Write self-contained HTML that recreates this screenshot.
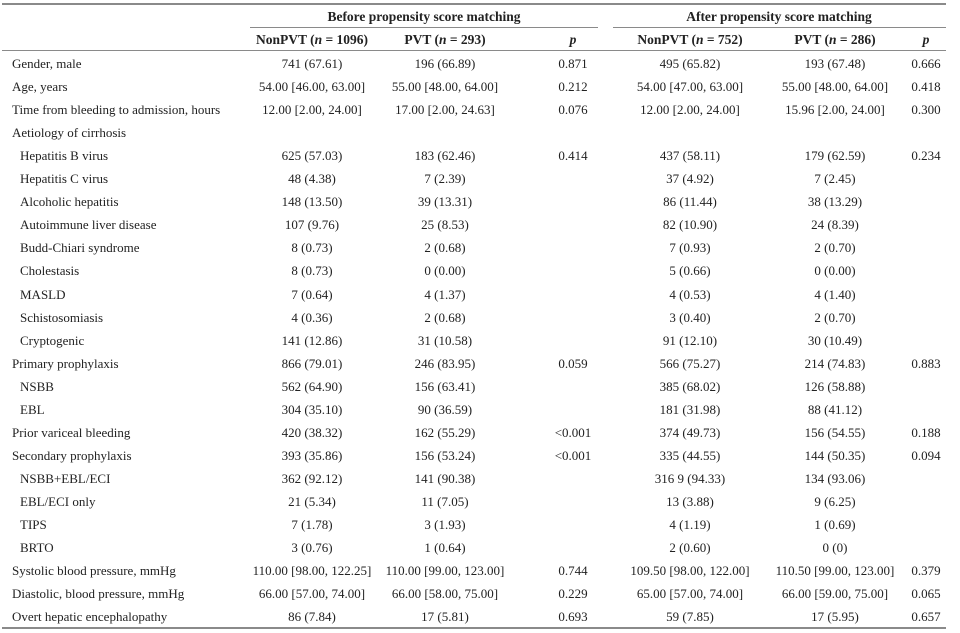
<!DOCTYPE html>
<html><head><meta charset="utf-8"><style>
body{margin:0;width:960px;height:633px;background:#fff;font-family:"Liberation Serif",serif;font-size:13px;color:#222;position:relative;overflow:hidden}
.r{position:absolute;left:0;width:960px;height:16px;line-height:16px}
.r span{position:absolute;white-space:nowrap}
.l{left:12px}.i{left:20px}
.c1,.c2,.c3,.c4,.c5,.c6{transform:translateX(-50%)}
.c1{left:312px}.c2{left:445px}.c3{left:573px}.c4{left:690px}.c5{left:835px}.c6{left:926px}
.hl{position:absolute;background:#8a8a8a}
b{font-weight:bold;font-size:13.5px}
</style></head><body>
<div class="hl" style="left:2px;width:944px;top:3px;height:2px"></div>
<div class="hl" style="left:250px;width:348px;top:27px;height:1px"></div>
<div class="hl" style="left:613px;width:333px;top:27px;height:1px"></div>
<div class="hl" style="left:2px;width:944px;top:50px;height:1px"></div>
<div class="hl" style="left:2px;width:944px;top:627px;height:2px"></div>
<div class="r" style="top:9px"><b><span style="left:424px;transform:translateX(-50%)">Before propensity score matching</span><span style="left:779px;transform:translateX(-50%)">After propensity score matching</span></b></div>
<div class="r" style="top:32px"><b><span class="c1">NonPVT (<i>n</i> = 1096)</span><span class="c2">PVT (<i>n</i> = 293)</span><span class="c3"><i>p</i></span><span class="c4">NonPVT (<i>n</i> = 752)</span><span class="c5">PVT (<i>n</i> = 286)</span><span class="c6"><i>p</i></span></b></div>
<div id="rows"></div>
<script>
var d=[
["l","Gender, male","741 (67.61)","196 (66.89)","0.871","495 (65.82)","193 (67.48)","0.666"],
["l","Age, years","54.00 [46.00, 63.00]","55.00 [48.00, 64.00]","0.212","54.00 [47.00, 63.00]","55.00 [48.00, 64.00]","0.418"],
["l","Time from bleeding to admission, hours","12.00 [2.00, 24.00]","17.00 [2.00, 24.63]","0.076","12.00 [2.00, 24.00]","15.96 [2.00, 24.00]","0.300"],
["l","Aetiology of cirrhosis","","","","","",""],
["i","Hepatitis B virus","625 (57.03)","183 (62.46)","0.414","437 (58.11)","179 (62.59)","0.234"],
["i","Hepatitis C virus","48 (4.38)","7 (2.39)","","37 (4.92)","7 (2.45)",""],
["i","Alcoholic hepatitis","148 (13.50)","39 (13.31)","","86 (11.44)","38 (13.29)",""],
["i","Autoimmune liver disease","107 (9.76)","25 (8.53)","","82 (10.90)","24 (8.39)",""],
["i","Budd-Chiari syndrome","8 (0.73)","2 (0.68)","","7 (0.93)","2 (0.70)",""],
["i","Cholestasis","8 (0.73)","0 (0.00)","","5 (0.66)","0 (0.00)",""],
["i","MASLD","7 (0.64)","4 (1.37)","","4 (0.53)","4 (1.40)",""],
["i","Schistosomiasis","4 (0.36)","2 (0.68)","","3 (0.40)","2 (0.70)",""],
["i","Cryptogenic","141 (12.86)","31 (10.58)","","91 (12.10)","30 (10.49)",""],
["l","Primary prophylaxis","866 (79.01)","246 (83.95)","0.059","566 (75.27)","214 (74.83)","0.883"],
["i","NSBB","562 (64.90)","156 (63.41)","","385 (68.02)","126 (58.88)",""],
["i","EBL","304 (35.10)","90 (36.59)","","181 (31.98)","88 (41.12)",""],
["l","Prior variceal bleeding","420 (38.32)","162 (55.29)","&lt;0.001","374 (49.73)","156 (54.55)","0.188"],
["l","Secondary prophylaxis","393 (35.86)","156 (53.24)","&lt;0.001","335 (44.55)","144 (50.35)","0.094"],
["i","NSBB+EBL/ECI","362 (92.12)","141 (90.38)","","316 9 (94.33)","134 (93.06)",""],
["i","EBL/ECI only","21 (5.34)","11 (7.05)","","13 (3.88)","9 (6.25)",""],
["i","TIPS","7 (1.78)","3 (1.93)","","4 (1.19)","1 (0.69)",""],
["i","BRTO","3 (0.76)","1 (0.64)","","2 (0.60)","0 (0)",""],
["l","Systolic blood pressure, mmHg","110.00 [98.00, 122.25]","110.00 [99.00, 123.00]","0.744","109.50 [98.00, 122.00]","110.50 [99.00, 123.00]","0.379"],
["l","Diastolic, blood pressure, mmHg","66.00 [57.00, 74.00]","66.00 [58.00, 75.00]","0.229","65.00 [57.00, 74.00]","66.00 [59.00, 75.00]","0.065"],
["l","Overt hepatic encephalopathy","86 (7.84)","17 (5.81)","0.693","59 (7.85)","17 (5.95)","0.657"]];
var h="";d.forEach(function(r,k){h+='<div class="r" style="top:'+(56+k*23.05)+'px"><span class="'+r[0]+'">'+r[1]+'</span>';for(var j=2;j<8;j++)h+='<span class="c'+(j-1)+'">'+r[j]+'</span>';h+='</div>';});
document.getElementById("rows").outerHTML=h;
</script>
</body></html>
